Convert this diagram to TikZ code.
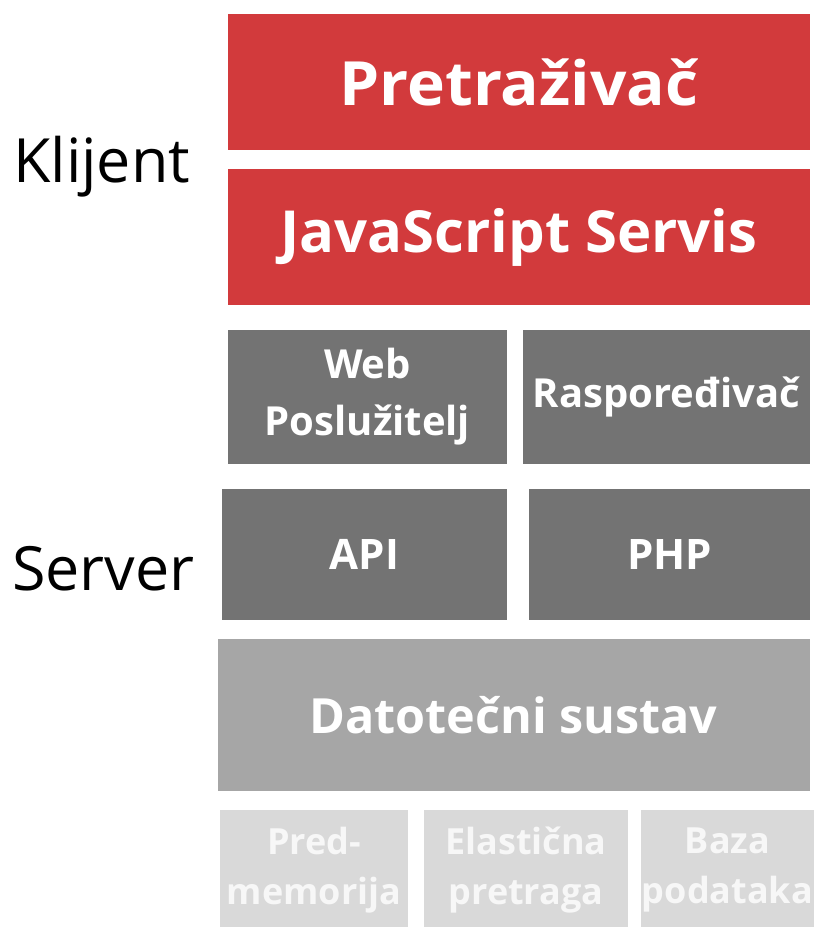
\documentclass[tikz,border=0pt]{standalone}
\usepackage{fontspec}
\setmainfont{Open Sans}
\definecolor{layerred}{RGB}{210,58,60}
\definecolor{darkgray}{RGB}{115,115,115}
\definecolor{midgray}{RGB}{166,166,166}
\definecolor{lightgray}{RGB}{217,217,217}
\begin{document}
\begin{tikzpicture}[x=1pt, y=-1pt,
	layer/.style={rectangle, inner sep=0pt, outer sep=0pt, align=center, text=white, font=\bfseries},
	client/.style={layer, fill=layerred, minimum width=582pt, minimum height=136pt, font=\bfseries\fontsize{58}{70}\selectfont},
	service/.style={layer, fill=darkgray, minimum height=134pt, font=\bfseries\fontsize{40}{57}\selectfont},
	storage/.style={layer, fill=lightgray, minimum height=120pt, text=white!97!black, font=\bfseries\fontsize{36}{50}\selectfont},
	side/.style={anchor=base west, inner sep=0pt, font=\fontsize{61}{70}\selectfont}]
	\useasboundingbox (0,0) rectangle (814,927);
	% klijent
	\node[client, font=\bfseries\fontsize{61}{70}\addfontfeature{FakeStretch=1.05}\selectfont] at (519,82) (browser) {Pretraživač};
	\node[client] at (519,237) (jsservice) {JavaScript Servis};
	% server
	\node[service, minimum width=279pt] at (367.5,397) (webserver) {Web\\Poslužitelj};
	\node[service, minimum width=287pt] at (666.5,397) (scheduler) {Raspoređivač};
	\node[service, minimum width=285pt, minimum height=131pt, font=\bfseries\fontsize{42}{57}\selectfont] at (364.5,554.5) (api) {API};
	\node[service, minimum width=281pt, minimum height=131pt, font=\bfseries\fontsize{42}{57}\selectfont] at (669.5,554.5) (php) {PHP};
	\node[layer, fill=midgray, minimum width=592pt, minimum height=152pt, font=\bfseries\fontsize{48.5}{60}\selectfont] at (513.5,715) (filesystem) {Datotečni sustav};
	\node[storage, minimum width=188pt] at (314,870) (cache) {Pred-\\memorija};
	\node[storage, minimum width=204pt] at (526,870) (search) {Elastična\\pretraga};
	\node[storage, minimum width=173pt] at (727.5,870) (database) {Baza\\podataka};
	% oznake
	\node[side] at (13,182) (clientlabel) {Klijent};
	\node[side] at (12,590) (serverlabel) {Server};
\end{tikzpicture}
\end{document}
